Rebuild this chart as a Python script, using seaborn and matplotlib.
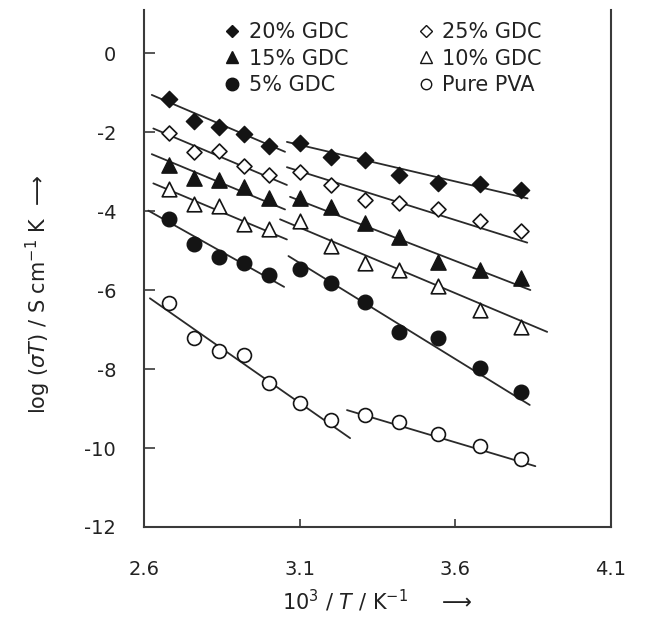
import matplotlib
matplotlib.use("Agg")
import matplotlib.pyplot as plt
import seaborn as sns
import pandas as pd
import numpy as np
from matplotlib.lines import Line2D

# ---------------- data ----------------
inv_T = [2.68, 2.76, 2.84, 2.92, 3.00, 3.10, 3.20, 3.31, 3.42, 3.545, 3.68, 3.81]

gdc20 = [-1.17, -1.71, -1.88, -2.06, -2.35, -2.27, -2.63, -2.71, -3.09, -3.28, -3.32, -3.47]
gdc25 = [-2.03, -2.50, -2.48, -2.85, -3.09, -3.02, -3.34, -3.72, -3.79, -3.96, -4.25, -4.50]
gdc15 = [-2.84, -3.17, -3.22, -3.40, -3.68, -3.66, -3.91, -4.30, -4.67, -5.28, -5.49, -5.70]
gdc10 = [-3.43, -3.81, -3.87, -4.33, -4.46, -4.26, -4.89, -5.32, -5.49, -5.90, -6.51, -6.93]
gdc5 = [-4.21, -4.84, -5.16, -5.32, -5.63, -5.48, -5.83, -6.31, -7.06, -7.21, -7.97, -8.57]
pva = [-6.34, -7.22, -7.54, -7.65, -8.36, -8.85, -9.30, -9.16, -9.33, -9.65, -9.95, -10.29]

labels = ["20% GDC", "25% GDC", "15% GDC", "10% GDC", "5% GDC", "Pure PVA"]

# fitted straight-line segments: (x0, y0, x1, y1)
fit20 = [(2.625, -1.06, 3.053, -2.50), (3.059, -2.25, 3.832, -3.68)]
fit25 = [(2.630, -1.91, 3.059, -3.34), (3.059, -2.89, 3.831, -4.80)]
fit15 = [(2.625, -2.56, 3.053, -3.96), (3.069, -3.64, 3.841, -6.00)]
fit10 = [(2.630, -3.30, 3.059, -4.72), (3.037, -4.21, 3.895, -7.06)]
fit5 = [(2.614, -3.99, 3.050, -5.92), (3.064, -5.14, 3.839, -8.91)]
fitpva = [(2.619, -6.21, 3.262, -9.75), (3.252, -9.04, 3.857, -10.46)]

x_ticks = [2.6, 3.1, 3.6, 4.1]
y_ticks = [0, -2, -4, -6, -8, -10, -12]

# ---------------- styling ----------------
sns.set_style("ticks")
plt.rcParams["font.family"] = ["DejaVu Sans"]
plt.rcParams["axes.unicode_minus"] = False
plt.rcParams["mathtext.fontset"] = "dejavusans"

INK = "#141414"
series_y = [gdc20, gdc25, gdc15, gdc10, gdc5, pva]
series_fit = [fit20, fit25, fit15, fit10, fit5, fitpva]
markers = ["D", "D", "^", "^", "o", "o"]
filled = [True, False, True, False, True, False]
msize = [8.3, 7.6, 11.0, 10.5, 10.5, 10.0]
leg_size = [6.5, 6.0, 9.0, 8.0, 9.0, 7.5]

fig = plt.figure(figsize=(6.49, 6.17), dpi=100)
ax = fig.add_axes([144 / 649, 1 - 527 / 617, (611 - 144) / 649, (527 - 10) / 617])

for lab, ys, fits, mk, fl, ms in zip(labels, series_y, series_fit, markers, filled, msize):
    for (x0, y0, x1, y1) in fits:
        sns.lineplot(x=[x0, x1], y=[y0, y1], color="#2a2a2a", lw=1.3, ax=ax,
                     legend=False, zorder=2)
    df = pd.DataFrame({"x": inv_T, "y": ys})
    sns.scatterplot(data=df, x="x", y="y", marker=mk, s=ms ** 2,
                    facecolor=INK if fl else "white", edgecolor=INK,
                    linewidth=1.0 if fl else 1.2, ax=ax, zorder=3, legend=False)

ax.set_xlim(2.6, 4.1)
ax.set_ylim(-12, 1.09)
ax.set_xticks(x_ticks)
ax.set_xticklabels([f"{v:.1f}" for v in x_ticks])
ax.set_yticks(y_ticks)
ax.set_yticklabels([str(v) for v in y_ticks])

for side in ["left", "right", "bottom"]:
    ax.spines[side].set_color("#3a3a3a")
    ax.spines[side].set_linewidth(1.5)
ax.spines["top"].set_visible(False)

ax.tick_params(axis="y", direction="in", length=8, width=1.2, color="#3a3a3a",
               labelsize=14, pad=20, labelcolor="#222222")
ax.tick_params(axis="x", direction="in", length=6, width=1.2, color="#3a3a3a",
               labelsize=14, pad=24, labelcolor="#222222")

ax.set_xlabel(r"10$^3$ / $T$ / K$^{-1}$     ⟶", fontsize=15, color="#222222")
ax.set_ylabel(r"log ($\sigma T$) / S cm$^{-1}$ K  ⟶", fontsize=15, color="#222222")
ax.yaxis.set_label_coords(-0.195, 0.45)
ax.xaxis.set_label_coords(0.5, -0.118)

# legend
order = [0, 2, 4, 1, 3, 5]
handles = []
for i in order:
    handles.append(Line2D([], [], linestyle="none", marker=markers[i],
                          markersize=leg_size[i],
                          markerfacecolor=INK if filled[i] else "white",
                          markeredgecolor=INK, markeredgewidth=1.0))
leg = ax.legend(handles, [labels[i] for i in order], ncol=2, loc="upper left",
                bbox_to_anchor=((224 - 144) / 467, (527 - 22) / 517),
                frameon=False, fontsize=15, handlelength=0.8, handletextpad=0.4,
                columnspacing=3.3, labelspacing=0.32, borderaxespad=0, borderpad=0)
for t in leg.get_texts():
    t.set_color("#222222")

fig.savefig("out.png", dpi=100)
